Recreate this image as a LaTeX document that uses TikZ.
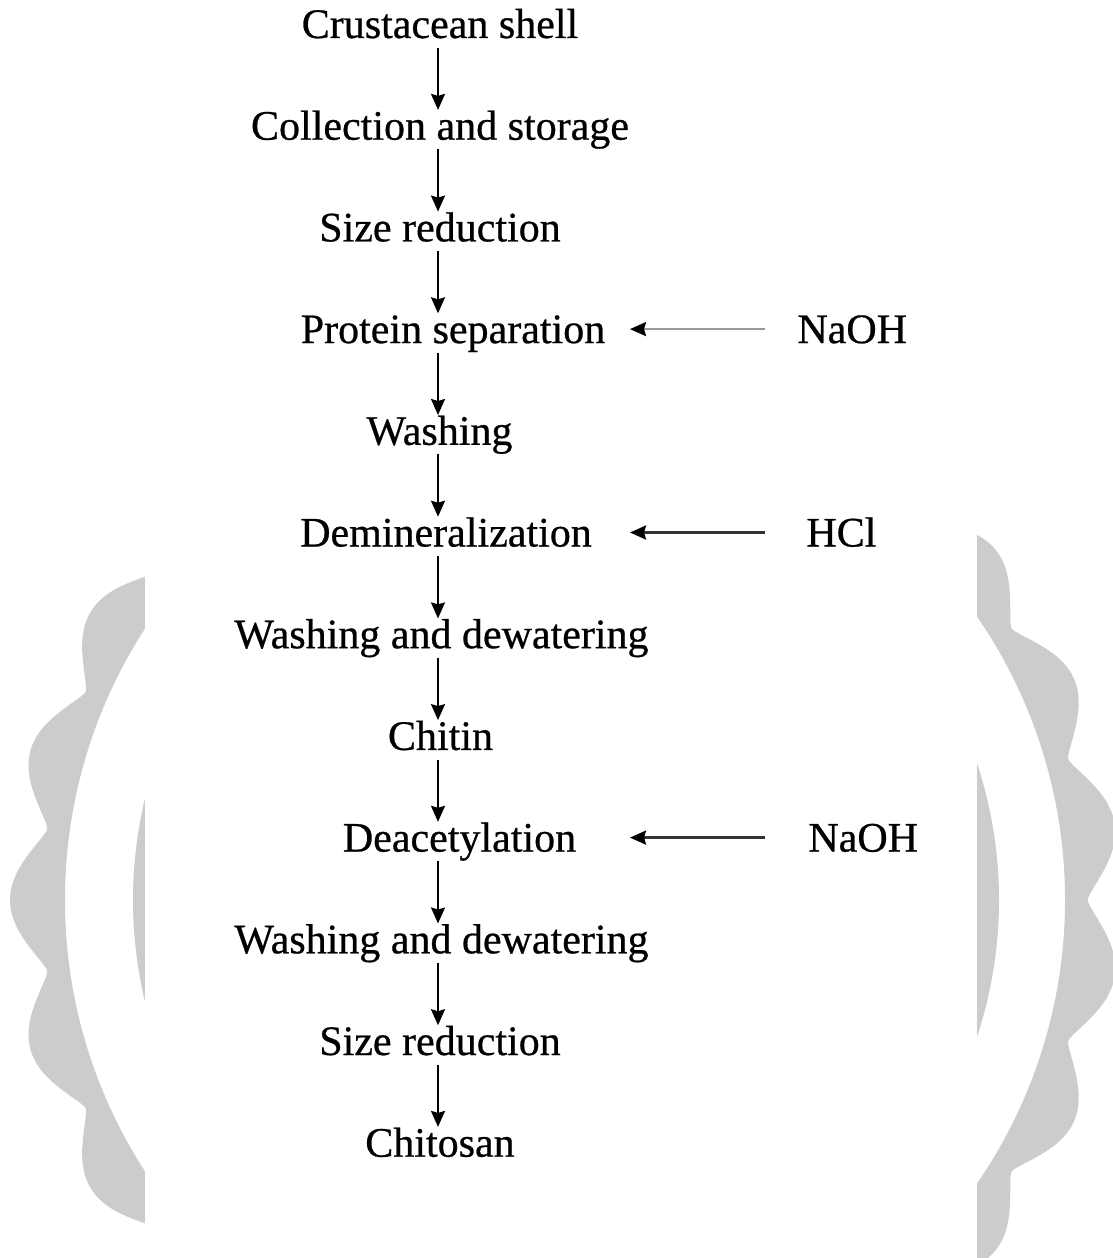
\documentclass[tikz,border=0pt]{standalone}
\usepackage{fontspec}
\setmainfont[FakeBold=0.6]{Liberation Serif}
\usetikzlibrary{arrows.meta}
\definecolor{gearfill}{HTML}{CCCCCC}
\definecolor{feedline}{HTML}{9A9A9A}
\begin{document}
\begin{tikzpicture}[x=0.5pt,y=-0.5pt]
\tikzset{
  procbox/.style={font=\fontsize{21}{25}\selectfont, inner sep=0pt,
    text height=14.7pt, text depth=4.6pt, anchor=base},
  reagent/.style={font=\fontsize{21}{25}\selectfont, inner sep=0pt,
    text height=14.7pt, text depth=0.7pt, anchor=base west},
  tiphead/.style={-{Stealth[length=8pt,width=7pt,inset=1pt,color=black]}},
  flow/.style={line width=1pt, tiphead},
  feedflow/.style={line width=1.2pt, tiphead},
}
\useasboundingbox (0,0) rectangle (1113,1258);

% background gear: toothed ring, inner disc, masked in the middle
\begin{scope}
  \clip (0,0) rectangle (1113,1258);
  \fill[gearfill, even odd rule]
    plot[domain=0:360, samples=1081, variable=\t]
      ({565+(522+33*((1+cos(23*(\t-180)))/2+0.001)^0.6)*cos(\t)},
       {900+(522+33*((1+cos(23*(\t-180)))/2+0.001)^0.6)*sin(\t)}) -- cycle
    (565,900) circle[radius=500];
  \fill[gearfill] (566,900) circle[radius=433];
  \fill[white] (145,0) rectangle (977,1258);
\end{scope}

% process steps
\node[procbox] (s1)  at (440,38)     {Crustacean shell};
\node[procbox] (s2)  at (440,139.7)  {Collection and storage};
\node[procbox] (s3)  at (440,241.4)  {Size reduction};
\node[procbox] (s4)  at (453,343.1)  {Protein separation};
\node[procbox] (s5)  at (439.5,444.8){Washing};
\node[procbox] (s6)  at (446,546.5)  {Demineralization};
\node[procbox] (s7)  at (441.5,648.2){Washing and dewatering};
\node[procbox] (s8)  at (440.5,749.9){Chitin};
\node[procbox] (s9)  at (459.5,851.6){Deacetylation};
\node[procbox] (s10) at (441.5,953.3){Washing and dewatering};
\node[procbox] (s11) at (440,1055)   {Size reduction};
\node[procbox] (s12) at (440,1156.7) {Chitosan};

% reagents
\node[reagent] (r1) at (797,343.1) {NaOH};
\node[reagent] (r2) at (806,546.5) {HCl};
\node[reagent] (r3) at (808,851.6) {NaOH};

% columns for the connectors
\coordinate (spine) at (438,0);
\coordinate (tail)  at (765,0);
\coordinate (feed)  at (630,0);

\foreach \a/\b in {s1/s2,s2/s3,s3/s4,s4/s5,s5/s6,s6/s7,s7/s8,s8/s9,s9/s10,s10/s11,s11/s12}
  \draw[flow] (\a.south -| spine) -- (\b.north -| spine);

\draw[feedflow, draw=feedline] (r1.west -| tail) -- (r1.west -| feed);
\draw[feedflow, draw=black!80] (r2.west -| tail) -- (r2.west -| feed);
\draw[feedflow, draw=black!80] (r3.west -| tail) -- (r3.west -| feed);
\end{tikzpicture}
\end{document}
